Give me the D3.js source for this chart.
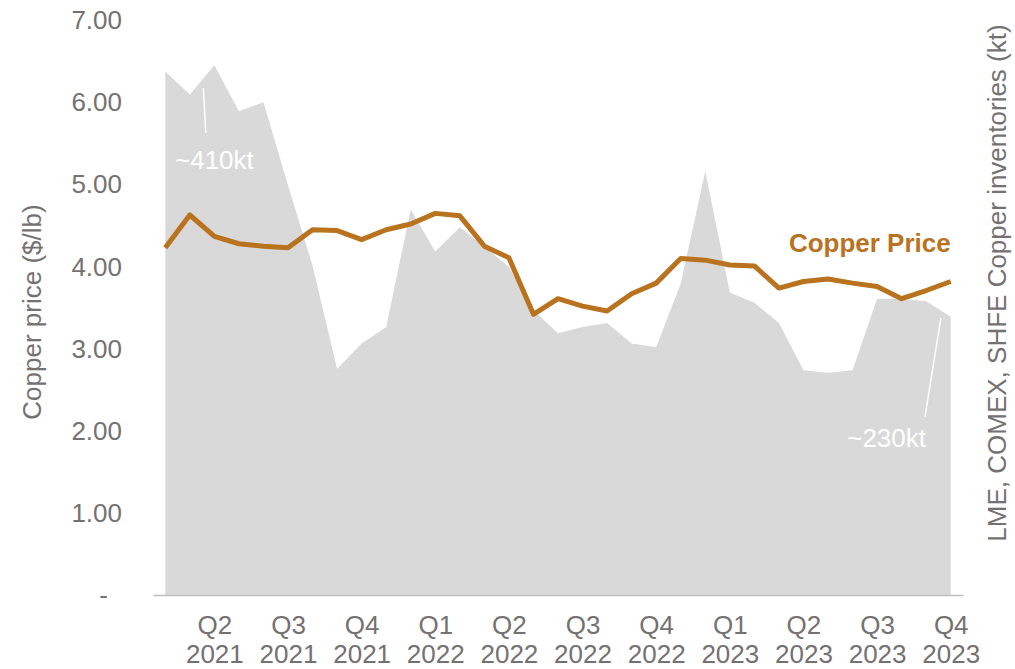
<!DOCTYPE html>
<html>
<head>
<meta charset="utf-8">
<script src="https://cdn.jsdelivr.net/npm/d3@7"></script>
<style>
	body { margin: 0; background: #fff; }
	svg text { font-family: "Liberation Sans", Arial, sans-serif; }
</style>
</head>
<body>
<svg id="chart" width="1015" height="669"></svg>
<script>
// Monthly points, Apr 2021 -> Dec 2023
const months = ["Apr-21","May-21","Jun-21","Jul-21","Aug-21","Sep-21","Oct-21","Nov-21","Dec-21",
	"Jan-22","Feb-22","Mar-22","Apr-22","May-22","Jun-22","Jul-22","Aug-22","Sep-22","Oct-22","Nov-22","Dec-22",
	"Jan-23","Feb-23","Mar-23","Apr-23","May-23","Jun-23","Jul-23","Aug-23","Sep-23","Oct-23","Nov-23","Dec-23"];

// Copper price ($/lb)
const price = [4.23, 4.63, 4.37, 4.28, 4.25, 4.23, 4.45, 4.44, 4.33, 4.45, 4.52, 4.65, 4.62,
	4.25, 4.11, 3.42, 3.61, 3.52, 3.46, 3.67, 3.80, 4.10, 4.08, 4.02, 4.01,
	3.74, 3.82, 3.85, 3.80, 3.76, 3.61, 3.71, 3.82];

// LME + COMEX + SHFE inventories (kt)
const inventories = [410, 392, 415, 379, 386, 321, 258, 177, 197, 210, 302, 269, 288,
	273, 257, 223, 205, 210, 213, 197, 194, 244, 332, 237, 229,
	213, 176, 174, 176, 232, 232, 230, 218];

// x axis labels (end month of each quarter)
const quarterMonths = ["Jun-21","Sep-21","Dec-21","Mar-22","Jun-22","Sep-22","Dec-22","Mar-23","Jun-23","Sep-23","Dec-23"];
const quarterLabels = [["Q2","2021"],["Q3","2021"],["Q4","2021"],["Q1","2022"],["Q2","2022"],["Q3","2022"],
	["Q4","2022"],["Q1","2023"],["Q2","2023"],["Q3","2023"],["Q4","2023"]];

const priceTicks = [0, 1, 2, 3, 4, 5, 6, 7];

const grey = "#757171";
const copper = "#b9731f";

let svg = d3.select("#chart");

let x = d3.scalePoint()
	.domain(months)
	.range([153, 963])
	.padding(0.5);

let yPrice = d3.scaleLinear().domain([0, 7]).range([595, 20.5]);
let yInv = d3.scaleLinear().domain([0, 450]).range([595, 20.5]);

//Inventories area
let area = d3.area()
	.x((d, i) => x(months[i]))
	.y0(yInv(0))
	.y1(d => yInv(d));

svg.append("path")
	.datum(inventories)
	.attr("d", area)
	.attr("fill", "#d9d9d9");

//Annotation pointers (white)
const annot = [
	{ text: "~410kt", i: 1.55, tip: 88, end: 133, tx: 175, ty: 169, anchor: "start", dx: 0.1 },
	{ text: "~230kt", i: 31.6, tip: 318, end: 417, tx: 926, ty: 447, anchor: "end", dx: -0.65 }
];
let lineX = d3.scaleLinear().domain([0, months.length - 1]).range([x(months[0]), x(months[months.length - 1])]);
annot.forEach(a => {
	svg.append("line")
		.attr("x1", lineX(a.i))
		.attr("y1", a.tip)
		.attr("x2", lineX(a.i + a.dx))
		.attr("y2", a.end)
		.style("stroke", "#fff")
		.style("stroke-width", 1.5);
	svg.append("text")
		.attr("x", a.tx)
		.attr("y", a.ty)
		.attr("text-anchor", a.anchor)
		.style("font-size", "26px")
		.style("fill", "#fff")
		.text(a.text);
});

//Price line
let line = d3.line()
	.x((d, i) => x(months[i]))
	.y(d => yPrice(d));

svg.append("path")
	.datum(price)
	.attr("d", line)
	.attr("fill", "none")
	.attr("stroke", copper)
	.attr("stroke-width", 5)
	.attr("stroke-linejoin", "round");

svg.append("text")
	.attr("x", x(months[months.length - 1]))
	.attr("y", 252)
	.attr("text-anchor", "end")
	.style("font-size", "26px")
	.style("font-weight", "bold")
	.style("fill", copper)
	.text("Copper Price");

//Left axis
let yAxis = svg.append("g")
	.attr("transform", "translate(153,0)")
	.call(d3.axisLeft(yPrice)
		.tickValues(priceTicks)
		.tickSize(0)
		.tickPadding(31)
		.tickFormat(d => d === 0 ? "-" : d.toFixed(2)));
yAxis.select(".domain").remove();
yAxis.selectAll("text")
	.style("font-size", "26px")
	.style("fill", grey)
	.attr("dx", d => d === 0 ? -14 : 0);

//Bottom axis
let xAxis = svg.append("g")
	.attr("transform", "translate(0,595)")
	.call(d3.axisBottom(x)
		.tickValues(quarterMonths)
		.tickSize(0)
		.tickSizeOuter(0)
		.tickFormat(""));
xAxis.select(".domain")
	.style("stroke", "#bfbfbf")
	.style("stroke-width", 1.5);

xAxis.selectAll(".tick").each(function(d, i) {
	let t = d3.select(this).select("text")
		.attr("y", 0)
		.attr("dy", null)
		.style("font-size", "26px")
		.style("fill", grey);
	t.selectAll("tspan")
		.data(quarterLabels[i])
		.enter()
		.append("tspan")
		.attr("x", 0)
		.attr("y", (s, k) => 39 + k * 29)
		.text(s => s);
});

//Axis titles
svg.append("text")
	.attr("transform", "translate(41,312) rotate(-90)")
	.attr("text-anchor", "middle")
	.style("font-size", "26px")
	.style("fill", grey)
	.text("Copper price ($/lb)");

svg.append("text")
	.attr("transform", "translate(1006,283) rotate(-90)")
	.attr("text-anchor", "middle")
	.style("font-size", "26px")
	.style("fill", grey)
	.text("LME, COMEX, SHFE Copper inventories (kt)");
</script>
</body>
</html>
